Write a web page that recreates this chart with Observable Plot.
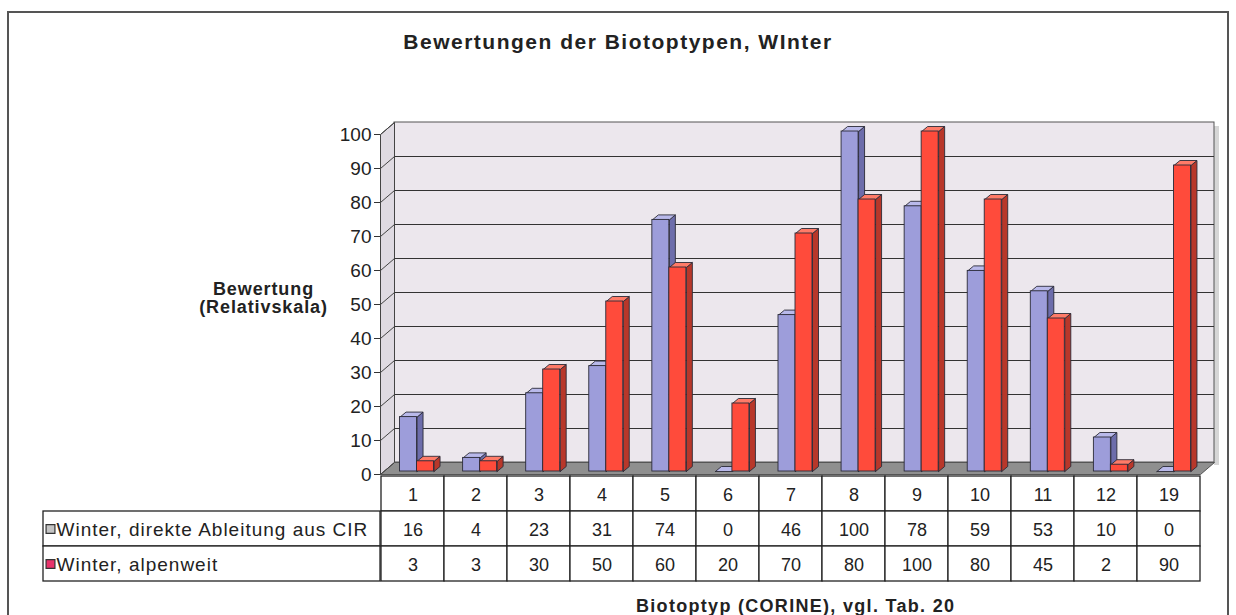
<!DOCTYPE html>
<html><head><meta charset="utf-8">
<script src="https://cdn.jsdelivr.net/npm/d3@7"></script>
<script src="https://cdn.jsdelivr.net/npm/@observablehq/plot@0.6"></script>
<style>
body{margin:0;background:#fff;font-family:"Liberation Sans",Arial,sans-serif;}
#page{position:relative;width:1236px;height:615px;overflow:hidden;background:#fff;}
#frame{position:absolute;left:7px;top:11px;width:1222px;height:610px;border:2px solid #555;box-sizing:border-box;pointer-events:none;}
#title{position:absolute;left:0;top:31px;width:1236px;text-align:center;font-weight:bold;font-size:21px;line-height:1;color:#222;letter-spacing:1.5px;}
#caption{position:absolute;left:636px;top:597px;font-weight:bold;font-size:18px;line-height:1;color:#222;letter-spacing:1.3px;}
.abs{position:absolute;}
</style></head><body>
<div id="page">
<div id="title"></div>
<div id="chart" class="abs" style="left:0;top:60px"></div>
<div id="tbl" class="abs" style="left:0;top:475px"></div>
<div id="lbl" class="abs" style="left:0;top:475px"></div>
<div id="caption"></div>
<div id="frame"></div>
</div>
<script>
// ---------- data ----------
const titleText = "Bewertungen der Biotoptypen, WInter";
const captionText = "Biotoptyp (CORINE), vgl. Tab. 20";
const yLabelLines = ["Bewertung", "(Relativskala)"];
const categories = ["1","2","3","4","5","6","7","8","9","10","11","12","19"];
const seriesNames = ["Winter, direkte Ableitung aus CIR", "Winter, alpenweit"];
const cirValues = [16, 4, 23, 31, 74, 0, 46, 100, 78, 59, 53, 10, 0];
const alpenValues = [3, 3, 30, 50, 60, 20, 70, 80, 100, 80, 45, 2, 90];
const yTicks = [0, 10, 20, 30, 40, 50, 60, 70, 80, 90, 100];
const legendSwatches = ["#c4c4c4", "#e8336b"];

document.getElementById("title").textContent = titleText;
document.getElementById("caption").textContent = captionText;

// ---------- geometry ----------
const W = 1236, ML = 380, MR = 36, H = 420, MT = 74, MB = 6;
const n = categories.length;
const ux = n / (W - ML - MR);      // data units per px (x)
const uy = 100 / (H - MT - MB);    // data units per px (y)
const wdx = 14 * ux, wdy = 12 * uy; // wall depth
const lift = 3 * uy;                // bars sit mid-depth
const bdx = 6 * ux, bdy = 5 * uy;   // bar depth
const x0 = -0.5, x1 = n - 0.5;

function bars(values, left, right, key) {
  return values.map((v, i) => ({
    id: key + i,
    x1: i + left * ux, x2: i + right * ux,
    b: lift, t: v + lift
  }));
}
const blueBars = bars(cirValues, -12, 5, "b");
const redBars = bars(alpenValues, 5, 22, "r");

function topFaces(bs) {
  return bs.flatMap(d => [
    {id: d.id, x: d.x1, y: d.t}, {id: d.id, x: d.x2, y: d.t},
    {id: d.id, x: d.x2 + bdx, y: d.t + bdy}, {id: d.id, x: d.x1 + bdx, y: d.t + bdy},
    {id: d.id, x: d.x1, y: d.t}
  ]);
}
function sideFaces(bs) {
  return bs.flatMap(d => [
    {id: d.id, x: d.x2, y: d.b}, {id: d.id, x: d.x2 + bdx, y: d.b + bdy},
    {id: d.id, x: d.x2 + bdx, y: d.t + bdy}, {id: d.id, x: d.x2, y: d.t},
    {id: d.id, x: d.x2, y: d.b}
  ]);
}
const sideWall = [
  {x: x0, y: 0}, {x: x0, y: 100}, {x: x0 + wdx, y: 100 + wdy}, {x: x0 + wdx, y: wdy}, {x: x0, y: 0}
];
const floor = [
  {x: x0, y: 0}, {x: x1, y: 0}, {x: x1 + wdx, y: wdy}, {x: x0 + wdx, y: wdy}, {x: x0, y: 0}
];
const edge = "#2b2b38";

const chart = Plot.plot({
  width: W, height: H,
  marginLeft: ML, marginRight: MR, marginTop: MT, marginBottom: MB,
  style: {background: "transparent", fontFamily: "Liberation Sans, Arial, sans-serif", color: "#222", overflow: "visible"},
  x: {domain: [x0, x1], axis: null},
  y: {domain: [0, 100], axis: null},
  marks: [
    // back wall + shadow
    Plot.rect([0], {x1: x1 + wdx, x2: x1 + wdx + 5 * ux, y1: wdy - 3 * uy, y2: 100 + wdy - 4 * uy, fill: "#d6d6d6"}),
    Plot.rect([0], {x1: x0 + wdx, x2: x1 + wdx, y1: wdy, y2: 100 + wdy, fill: "#ece7ed", stroke: "#555", strokeWidth: 1}),
    Plot.line(sideWall, {x: "x", y: "y", fill: "#dfdae2", stroke: "#444", strokeWidth: 1}),
    Plot.line(floor, {x: "x", y: "y", fill: "#8f8f8f", stroke: "#555", strokeWidth: 1}),
    // gridlines on back wall and connectors on side wall
    Plot.ruleY(yTicks.filter(t => t > 0 && t < 100), {y: t => t + wdy, x1: x0 + wdx, x2: x1 + wdx, stroke: "#333", strokeWidth: 1.1}),
    Plot.link(yTicks, {x1: x0, y1: t => t, x2: x0 + wdx, y2: t => t + wdy, stroke: "#444", strokeWidth: 1}),
    // series 1 (lavender)
    Plot.line(sideFaces(blueBars), {x: "x", y: "y", z: "id", fill: "#6d6dab", stroke: edge, strokeWidth: 0.9}),
    Plot.line(topFaces(blueBars), {x: "x", y: "y", z: "id", fill: "#b9b9ea", stroke: edge, strokeWidth: 0.9}),
    Plot.rect(blueBars, {x1: "x1", x2: "x2", y1: "b", y2: "t", fill: "#9d9dda", stroke: edge, strokeWidth: 0.9}),
    // series 2 (red)
    Plot.line(sideFaces(redBars), {x: "x", y: "y", z: "id", fill: "#b8372a", stroke: edge, strokeWidth: 0.9}),
    Plot.line(topFaces(redBars), {x: "x", y: "y", z: "id", fill: "#ff7b68", stroke: edge, strokeWidth: 0.9}),
    Plot.rect(redBars, {x1: "x1", x2: "x2", y1: "b", y2: "t", fill: "#ff4b3b", stroke: edge, strokeWidth: 0.9}),
    // axis
    Plot.axisY(yTicks, {anchor: "left", tickSize: 6, tickPadding: 3, fontSize: 19, label: null, stroke: "#333"}),
    Plot.text(yLabelLines, {text: d => d, frameAnchor: "left", y: (d, i) => 54.5 - i * 5.2, dx: -117, fontSize: 18, fontWeight: "bold", textAnchor: "middle", fill: "#222", className: "ylabel"})
  ]
});
chart.querySelectorAll(".ylabel text").forEach(t => t.style.letterSpacing = "0.9px");
document.getElementById("chart").append(chart);

// ---------- data table ----------
const rows = ["h", "s1", "s2"];
const cells = categories.flatMap((c, i) => [
  {col: c, row: "h", text: c},
  {col: c, row: "s1", text: String(cirValues[i])},
  {col: c, row: "s2", text: String(alpenValues[i])}
]);
const tH = 107;
const table = Plot.plot({
  width: W, height: tH,
  marginLeft: ML, marginRight: MR, marginTop: 1, marginBottom: 1,
  style: {background: "transparent", fontFamily: "Liberation Sans, Arial, sans-serif"},
  x: {type: "band", domain: categories, padding: 0, axis: null},
  y: {type: "band", domain: rows, padding: 0, axis: null},
  marks: [
    Plot.cell(cells, {x: "col", y: "row", fill: "white", stroke: "#222", strokeWidth: 1.3, inset: 0}),
    Plot.text(cells, {x: "col", y: "row", text: "text", fontSize: 18, fill: "#222", dy: 1})
  ]
});
document.getElementById("tbl").append(table);

const legendRows = seriesNames.map((name, i) => ({row: rows[i + 1], name, color: legendSwatches[i]}));
const labels = Plot.plot({
  width: ML + 2, height: tH,
  marginLeft: 43, marginRight: 2, marginTop: 1, marginBottom: 1,
  style: {background: "transparent", fontFamily: "Liberation Sans, Arial, sans-serif", overflow: "visible"},
  x: {type: "band", domain: ["label"], padding: 0, axis: null},
  y: {type: "band", domain: rows, padding: 0, axis: null},
  marks: [
    Plot.cell(legendRows, {x: () => "label", y: "row", fill: "white", stroke: "#222", strokeWidth: 1.3, inset: 0}),
    Plot.dot(legendRows, {y: "row", frameAnchor: "left", dx: 7, symbol: "square", r: 5, fill: "color", stroke: "#333", strokeWidth: 1.2}),
    Plot.text(legendRows, {y: "row", frameAnchor: "left", dx: 13, text: "name", textAnchor: "start", fontSize: 19, fill: "#222", dy: 1})
  ]
});
labels.querySelectorAll("text").forEach(t => t.style.letterSpacing = "1px");
document.getElementById("lbl").append(labels);
</script>
</body></html>
